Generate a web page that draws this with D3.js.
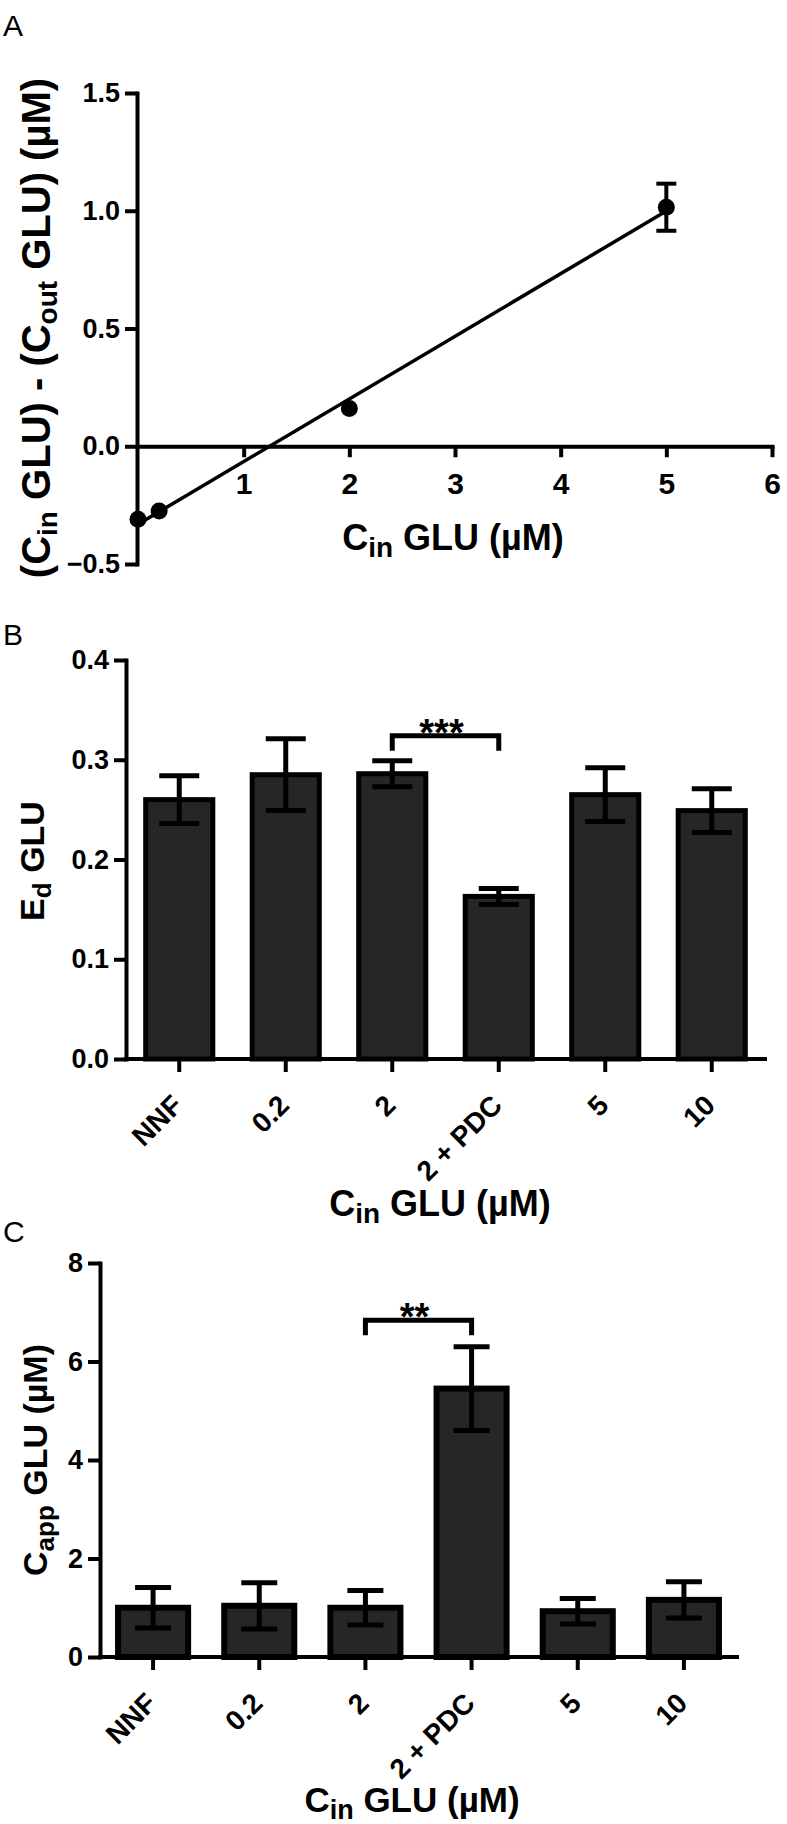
<!DOCTYPE html>
<html>
<head>
<meta charset="utf-8">
<script src="https://cdn.jsdelivr.net/npm/d3@7"></script>
<style>
  body { margin: 0; background: #fff; }
  svg text { font-family: "Liberation Sans", Arial, sans-serif; }
</style>
</head>
<body>
<div id="chart"></div>
<script>
// panel A: uptake vs inflow concentration
var aX = [0, 0.2, 2, 5];
var aY = [-0.31, -0.275, 0.16, 1.015];
var aErr = [0, 0, 0, 0.1];
var aXTicks = [1, 2, 3, 4, 5, 6];
var aYTicks = [-0.5, 0, 0.5, 1.0, 1.5];

// panels B and C: bar charts
var categories = ["NNF", "0.2", "2", "2 + PDC", "5", "10"];
var edValues = [0.26, 0.285, 0.286, 0.163, 0.265, 0.249];
var edErrors = [0.024, 0.036, 0.013, 0.008, 0.027, 0.022];
var edTicks = [0, 0.1, 0.2, 0.3, 0.4];
var cappValues = [1.0, 1.04, 1.0, 5.45, 0.93, 1.16];
var cappErrors = [0.41, 0.47, 0.35, 0.85, 0.26, 0.37];
var cappTicks = [0, 2, 4, 6, 8];

var width = 787, height = 1824;

var svg = d3.select("#chart").append("svg")
  .attr("width", width)
  .attr("height", height);

svg.append("rect").attr("width", width).attr("height", height).attr("fill", "#fff");

function styleAxis(g, size) {
  g.select(".domain").attr("stroke", "#000").attr("stroke-width", 4).attr("stroke-linecap", "square");
  g.selectAll(".tick line").attr("stroke", "#000").attr("stroke-width", 4);
  g.selectAll(".tick text")
    .attr("fill", "#000")
    .style("font-size", size + "px")
    .style("font-weight", "bold");
}

function panelLabel(txt, y) {
  svg.append("text").attr("x", 3).attr("y", y)
    .style("font-size", "30px").text(txt);
}

// title with a subscript, e.g. C<sub>in</sub> GLU (µM)
function subTitle(parts, x, y, rotate, size, subSize) {
  var t = svg.append("text")
    .attr("text-anchor", "middle")
    .attr("transform", "translate(" + x + "," + y + ")" + (rotate ? " rotate(-90)" : ""))
    .style("font-weight", "bold")
    .style("font-size", size + "px");
  var down = false;
  parts.forEach(function(p) {
    var s = t.append("tspan").text(p[0]);
    if (p[1] && !down) { s.attr("dy", 7).style("font-size", subSize + "px"); down = true; }
    else if (!p[1] && down) { s.attr("dy", -7); down = false; }
  });
  return t;
}

/* ---------- Panel A ---------- */
panelLabel("A", 36);

var xA = d3.scaleLinear().domain([0, 6]).range([138, 772]);
var yA = d3.scaleLinear().domain([-0.5, 1.5]).range([564, 93]);

svg.append("g")
  .attr("transform", "translate(137,0)")
  .call(d3.axisLeft(yA).tickValues(aYTicks).tickFormat(d3.format(".1f"))
    .tickSize(12).tickSizeOuter(0).tickPadding(5))
  .call(styleAxis, 27);

svg.append("g")
  .attr("transform", "translate(0," + yA(0) + ")")
  .call(d3.axisBottom(xA).tickValues(aXTicks).tickFormat(d3.format("d"))
    .tickSize(11).tickSizeOuter(0).tickPadding(15))
  .call(styleAxis, 30);

// least squares line through the points
var mx = d3.mean(aX), my = d3.mean(aY);
var slope = d3.sum(aX, function(x, i) { return (x - mx) * (aY[i] - my); }) /
            d3.sum(aX, function(x) { return (x - mx) * (x - mx); });
var icept = my - slope * mx;
var fitX = d3.extent(aX);
svg.append("line")
  .attr("x1", xA(fitX[0])).attr("y1", yA(icept + slope * fitX[0]))
  .attr("x2", xA(fitX[1])).attr("y2", yA(icept + slope * fitX[1]))
  .attr("stroke", "#000").attr("stroke-width", 3.5);

var pts = aX.map(function(x, i) { return {x: x, y: aY[i], e: aErr[i]}; });
var errA = svg.append("g").selectAll("g").data(pts.filter(function(d) { return d.e > 0; }))
  .enter().append("g").attr("stroke", "#000").attr("stroke-width", 4);
errA.append("line")
  .attr("x1", function(d) { return xA(d.x); }).attr("x2", function(d) { return xA(d.x); })
  .attr("y1", function(d) { return yA(d.y - d.e); }).attr("y2", function(d) { return yA(d.y + d.e); });
[-1, 1].forEach(function(s) {
  errA.append("line")
    .attr("x1", function(d) { return xA(d.x) - 10; }).attr("x2", function(d) { return xA(d.x) + 10; })
    .attr("y1", function(d) { return yA(d.y + s * d.e); }).attr("y2", function(d) { return yA(d.y + s * d.e); });
});

svg.append("g").selectAll("circle").data(pts).enter().append("circle")
  .attr("cx", function(d) { return xA(d.x); })
  .attr("cy", function(d) { return yA(d.y); })
  .attr("r", 8.5).attr("fill", "#000");

subTitle([["(C"], ["in", 1], [" GLU) - (C"], ["out", 1], [" GLU) (\u00b5M)"]], 50, 328, true, 40, 28);
subTitle([["C"], ["in", 1], [" GLU (\u00b5M)"]], 453, 550, false, 36, 28);

/* ---------- Bar panels ---------- */
function barPanel(opt) {
  var x = d3.scaleBand().domain(categories).range(opt.xRange).paddingInner(opt.pad).paddingOuter(opt.pad / 2);
  var y = d3.scaleLinear().domain(d3.extent(opt.ticks)).range(opt.yRange);
  var data = categories.map(function(c, i) { return {c: c, v: opt.values[i], e: opt.errors[i]}; });
  var cx = function(d) { return x(d.c) + x.bandwidth() / 2; };

  svg.append("g").selectAll("rect").data(data).enter().append("rect")
    .attr("x", function(d) { return x(d.c); })
    .attr("y", function(d) { return y(d.v); })
    .attr("width", x.bandwidth())
    .attr("height", function(d) { return y(0) - y(d.v); })
    .attr("fill", "#262626").attr("stroke", "#000").attr("stroke-width", opt.bar);

  var eb = svg.append("g").selectAll("g").data(data).enter().append("g")
    .attr("stroke", "#000").attr("stroke-width", 5);
  eb.append("line").attr("x1", cx).attr("x2", cx)
    .attr("y1", function(d) { return y(d.v - d.e); })
    .attr("y2", function(d) { return y(d.v + d.e); });
  [-1, 1].forEach(function(s) {
    eb.append("line")
      .attr("x1", function(d) { return cx(d) - opt.cap; })
      .attr("x2", function(d) { return cx(d) + opt.cap; })
      .attr("y1", function(d) { return y(d.v + s * d.e); })
      .attr("y2", function(d) { return y(d.v + s * d.e); });
  });

  svg.append("g")
    .attr("transform", "translate(" + opt.xRange[0] + ",0)")
    .call(d3.axisLeft(y).tickValues(opt.ticks).tickFormat(opt.fmt)
      .tickSize(12).tickSizeOuter(0).tickPadding(5))
    .call(styleAxis, 27);

  var xa = svg.append("g")
    .attr("transform", "translate(0," + y(0) + ")")
    .call(d3.axisBottom(x).tickSize(13).tickSizeOuter(0))
    .call(styleAxis, 28);
  xa.select(".domain").attr("d", "M" + opt.xRange[0] + ",0H" + opt.xRange[1]);
  xa.selectAll(".tick text")
    .attr("x", 0).attr("y", 0).attr("dy", 0)
    .attr("text-anchor", "end")
    .attr("transform", "translate(5,48) rotate(-45)");

  // significance bracket
  var s = opt.sig;
  var x1 = x(s.from) + x.bandwidth() / 2, x2 = x(s.to) + x.bandwidth() / 2;
  svg.append("path")
    .attr("d", "M" + x1 + "," + (y(s.level) + 15) + "V" + y(s.level) + "H" + x2 + "V" + (y(s.level) + 15))
    .attr("fill", "none").attr("stroke", "#000").attr("stroke-width", 5);
  svg.append("text")
    .attr("x", (x1 + x2) / 2 - 4).attr("y", y(s.level) + 10)
    .attr("text-anchor", "middle")
    .style("font-size", "38px").style("font-weight", "bold")
    .text(s.label);
  return {x: x, y: y};
}

/* ---------- Panel B ---------- */
panelLabel("B", 645);
barPanel({
  values: edValues, errors: edErrors, ticks: edTicks, fmt: d3.format(".1f"),
  xRange: [126, 765], yRange: [1059, 660], pad: 0.37, cap: 20, bar: 5,
  sig: {from: "2", to: "2 + PDC", label: "***", level: 0.324}
});
subTitle([["E"], ["d", 1], [" GLU"]], 44, 861, true, 34, 26);
subTitle([["C"], ["in", 1], [" GLU (\u00b5M)"]], 440, 1216, false, 36, 28);

/* ---------- Panel C ---------- */
panelLabel("C", 1242);
barPanel({
  values: cappValues, errors: cappErrors, ticks: cappTicks, fmt: d3.format("d"),
  xRange: [100, 737], yRange: [1657, 1263], pad: 0.34, cap: 18, bar: 6,
  sig: {from: "2", to: "2 + PDC", label: "**", level: 6.84}
});
subTitle([["C"], ["app", 1], [" GLU (\u00b5M)"]], 47, 1460, true, 34, 26);
subTitle([["C"], ["in", 1], [" GLU (\u00b5M)"]], 412, 1812, false, 35, 27);
</script>
</body>
</html>
